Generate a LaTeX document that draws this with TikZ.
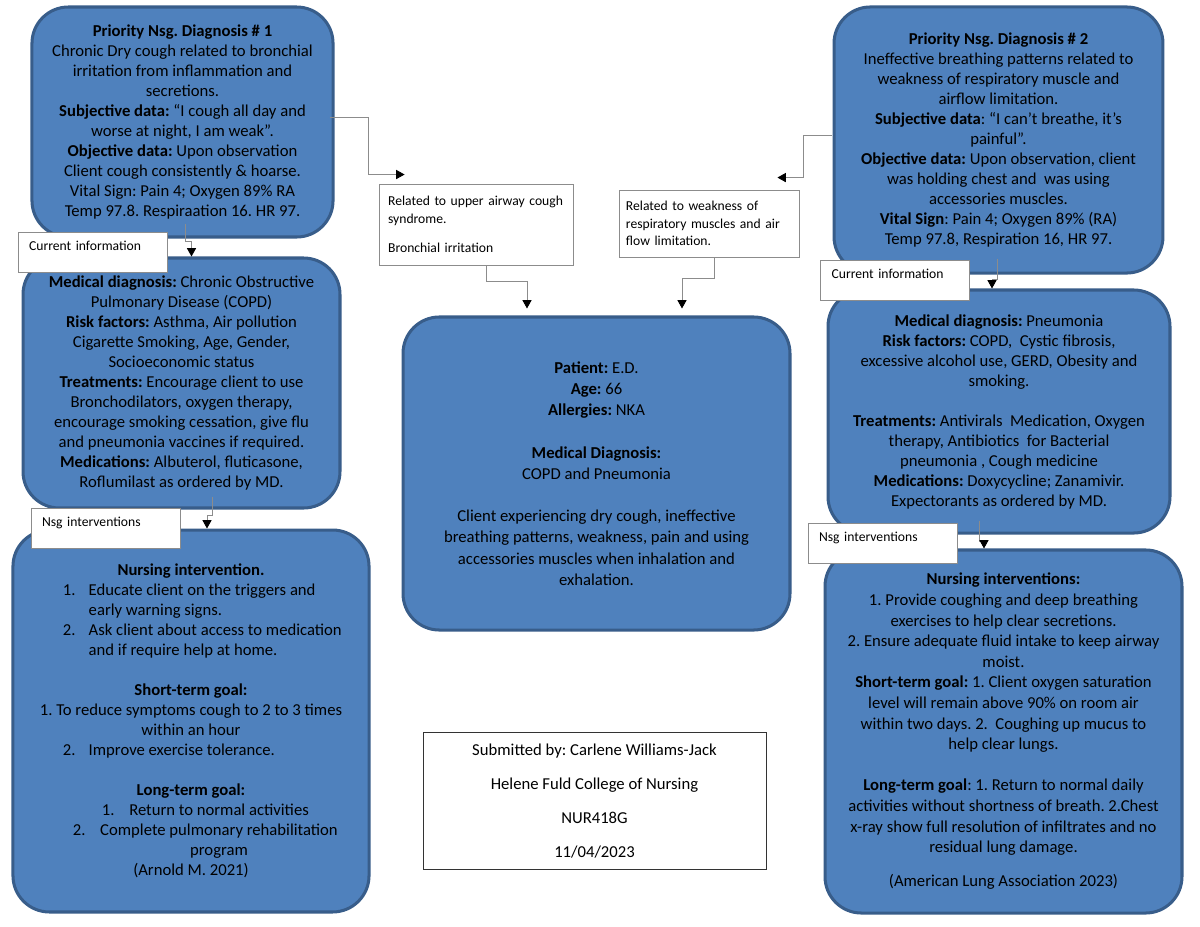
\documentclass[tikz,border=0pt]{standalone}
\usepackage{fontspec}
\setmainfont{Carlito}
\usetikzlibrary{arrows.meta,calc}
\definecolor{boxblue}{HTML}{4F81BD}
\definecolor{boxedge}{HTML}{385D8A}
\definecolor{linegray}{HTML}{8C8C8C}
\frenchspacing

\begin{document}
\begin{tikzpicture}[x=0.66pt,y=-0.66pt,
    blob/.style 2 args={rectangle,rounded corners=24pt,draw=boxedge,fill=boxblue,line width=2pt,
        minimum width=#1,minimum height=#2,inner sep=0pt,align=center,
        font=\fontsize{11pt}{13.2pt}\selectfont},
    tag/.style={rectangle,draw=linegray,fill=white,line width=0.6pt,
        minimum width=98.3pt,minimum height=26.4pt,text width=83.7pt,
        inner xsep=7.3pt,inner ysep=3pt,text height=8.9pt,text depth=11.5pt,
        align=left,font=\fontsize{9pt}{11pt}\selectfont},
    note/.style={rectangle,draw=linegray,fill=white,line width=0.6pt,
        align=left,font=\fontsize{9pt}{11.7pt}\selectfont},
    conn/.style={draw=linegray,line width=0.6pt,
        -{Triangle[length=5.5pt,width=6pt,color=black]}}]

    \useasboundingbox (0,0) rectangle (1200,927);
    \fill[white] (0,0) rectangle (1200,927);

    \node[blob={198.7pt}{151.8pt}] (diag1) at (182.5,122) {%
        \textbf{Priority Nsg. Diagnosis \# 1}\\
        Chronic Dry cough related to bronchial\\
        irritation from inflammation and\\
        secretions.\\
        \textbf{Subjective data:} “I cough all day and\\
        worse at night, I am weak”.\\
        \textbf{Objective data:} Upon observation\\
        Client cough consistently \& hoarse.\\
        Vital Sign: Pain 4; Oxygen 89\% RA\\
        Temp 97.8. Respiraation 16. HR 97.};

    \node[blob={209.2pt}{165pt}] (meddx1) at (181.5,383) {%
        \textbf{Medical diagnosis:} Chronic Obstructive\\
        Pulmonary Disease (COPD)\\
        \textbf{Risk factors:} Asthma, Air pollution\\
        Cigarette Smoking, Age, Gender,\\
        Socioeconomic status\\
        \textbf{Treatments:} Encourage client to use\\
        Bronchodilators, oxygen therapy,\\
        encourage smoking cessation, give flu\\
        and pneumonia vaccines if required.\\
        \textbf{Medications:} Albuterol, fluticasone,\\
        Roflumilast as ordered by MD.};

    \node[blob={235pt}{252.1pt}] (nsgint1) at (191,721) {%
        \textbf{Nursing intervention.}\\
        \makebox[169pt][l]{\makebox[17pt][l]{1.}Educate client on the triggers and}\\
        \makebox[169pt][l]{\hspace{17pt}early warning signs.}\\
        \makebox[169pt][l]{\makebox[17pt][l]{2.}Ask client about access to medication}\\
        \makebox[169pt][l]{\hspace{17pt}and if require help at home.}\\[13.2pt]
        \textbf{Short-term goal:}\\
        1. To reduce symptoms cough to 2 to 3 times\\
        within an hour\\
        \makebox[169pt][l]{\makebox[17pt][l]{2.}Improve exercise tolerance.}\\[13.2pt]
        \textbf{Long-term goal:}\\
        \makebox[117.5pt][l]{\makebox[18pt][l]{1.}Return to normal activities}\\
        \makebox[155.8pt][l]{\makebox[18pt][l]{2.}Complete pulmonary rehabilitation}\\
        \hspace*{37pt}program\\
        (Arnold M. 2021)};

    \node[blob={255.4pt}{206.6pt},font=\fontsize{11pt}{14pt}\selectfont] (patient) at (596.5,473.5) {%
        \textbf{Patient:} E.D.\\
        \textbf{Age:} 66\\
        \textbf{Allergies:} NKA\\[14pt]
        \textbf{Medical Diagnosis:}\\
        COPD and Pneumonia\\[14pt]
        Client experiencing dry cough, ineffective\\
        breathing patterns, weakness, pain and using\\
        accessories muscles when inhalation and\\
        exhalation.};

    \node[blob={217.1pt}{175.6pt}] (diag2) at (998.5,140) {%
        \textbf{Priority Nsg. Diagnosis \# 2}\\
        Ineffective breathing patterns related to\\
        weakness of respiratory muscle and\\
        airflow limitation.\\
        \textbf{Subjective data}: “I can’t breathe, it’s\\
        painful”.\\
        \textbf{Objective data:} Upon observation, client\\
        was holding chest and\ \ was using\\
        accessories muscles.\\
        \textbf{Vital Sign}: Pain 4; Oxygen 89\% (RA)\\
        Temp 97.8, Respiration 16, HR 97.};

    \node[blob={225.7pt}{160.4pt}] (meddx2) at (999,411.5) {%
        \textbf{Medical diagnosis:} Pneumonia\\
        \textbf{Risk factors:} COPD,\ \ Cystic fibrosis,\\
        excessive alcohol use, GERD, Obesity and\\
        smoking.\\[13.2pt]
        \textbf{Treatments:} Antivirals\ \ Medication, Oxygen\\
        therapy, Antibiotics\ \ for Bacterial\\
        pneumonia , Cough medicine\\
        \textbf{Medications:} Doxycycline; Zanamivir.\\
        Expectorants as ordered by MD.};

    \node[blob={235.6pt}{239.6pt},font=\fontsize{11pt}{13.6pt}\selectfont] (nsgint2) at (1003.5,731.5) {%
        \textbf{Nursing interventions:}\\
        1. Provide coughing and deep breathing\\
        exercises to help clear secretions.\\
        2. Ensure adequate fluid intake to keep airway\\
        moist.\\
        \textbf{Short-term goal:} 1. Client oxygen saturation\\
        level will remain above 90\% on room air\\
        within two days. 2.\ \ Coughing up mucus to\\
        help clear lungs.\\[13.6pt]
        \textbf{Long-term goal}: 1. Return to normal daily\\
        activities without shortness of breath. 2.Chest\\
        x-ray show full resolution of infiltrates and no\\
        residual lung damage.\\[9pt]
        (American Lung Association 2023)};

    \node[tag] (curinfo1) at (92.5,252) {Current information};
    \node[tag] (curinfo2) at (895,280.5) {Current information};
    \node[tag] (nsglbl1) at (105.5,528) {Nsg interventions};
    \node[tag] (nsglbl2) at (882.5,543) {Nsg interventions};

    \node[note,minimum width=128pt,minimum height=53.5pt,text width=116pt,inner xsep=6pt] (related1) at (476,224.5) {%
        Related to upper airway cough\\
        syndrome.\\[7.3pt]
        Bronchial irritation};
    \node[note,minimum width=118.8pt,minimum height=44.2pt,text width=109.6pt,inner xsep=4.6pt] (related2) at (709,223.5) {%
        Related to weakness of\\
        respiratory muscles and air\\
        flow limitation.};

    \node[rectangle,draw=black!80,fill=white,line width=0.6pt,minimum width=226.4pt,minimum height=91pt,
        align=center,font=\fontsize{11pt}{13.2pt}\selectfont] (submitted) at (594.5,801) {%
        Submitted by: Carlene Williams-Jack\\[9.2pt]
        Helene Fuld College of Nursing\\[9.2pt]
        NUR418G\\[9.2pt]
        11/04/2023};

    \draw[conn] ($(diag1.south)+(3,-15)$) -- ++(0,18) -| ($(meddx1.north)+(10,0)$);
    \draw[conn] ($(diag2.south)+(-1.5,-16)$) -- ++(0,21) -| ($(meddx2.north)+(-7,0)$);
    \draw[conn] ($(meddx1.south)+(30.5,-13)$) -- ++(0,19) -| ($(nsgint1.north)+(16,0)$);
    \draw[conn] ($(meddx2.south)+(-20,-14)$) -- ++(0,21) -| ($(nsgint2.north)+(-19.5,0)$);
    \draw[conn] ($(diag1.east)+(-5,-5)$) -- ++(39,0) |- ($(related1.north west)+(26,-9)$);
    \draw[conn] ($(diag2.west)+(-1,-5)$) -- ++(-28,0) |- ($(related2.north east)+(-22,-12)$);
    \draw[conn] ($(related1.south)+(10,0)$) -- ++(0,16) -| ($(patient.north)+(-69.5,-7)$);
    \draw[conn] ($(related2.south)+(5,0)$) -- ++(0,21) -| ($(patient.north)+(85.5,-7)$);
\end{tikzpicture}
\end{document}
